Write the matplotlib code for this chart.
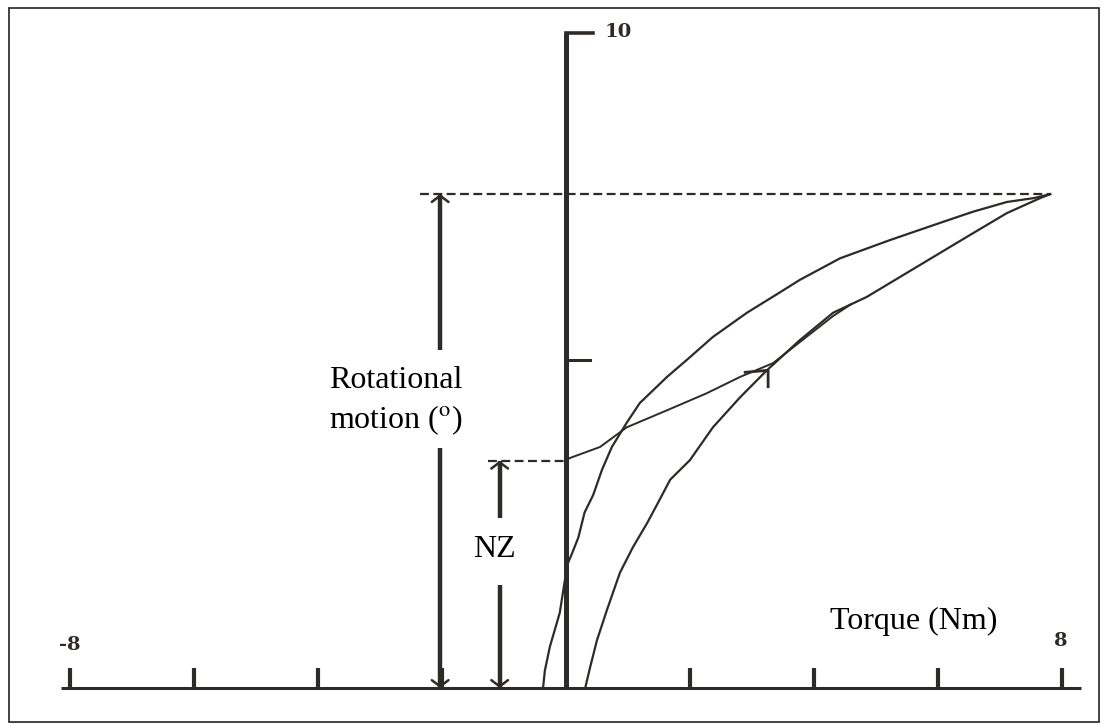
import numpy as np
import matplotlib
matplotlib.use("Agg")
import matplotlib.pyplot as plt

# values (torque in Nm, rotation in degrees)
unload_x = [7.81, 7.55, 7.11, 6.56, 6.03, 5.23, 4.42, 3.77, 3.45, 2.92, 2.37, 1.95, 1.63,
            1.19, 0.98, 0.74, 0.58, 0.44, 0.30, 0.20, 0.10, 0.02, -0.10, -0.18, -0.26, -0.34, -0.37]
unload_y = [7.54, 7.48, 7.42, 7.27, 7.10, 6.84, 6.56, 6.23, 6.04, 5.73, 5.36, 5.01, 4.75,
            4.35, 4.05, 3.68, 3.33, 2.95, 2.68, 2.30, 2.06, 1.88, 1.15, 0.89, 0.63, 0.27, 0.0]

load_x = [0.31, 0.39, 0.50, 0.66, 0.87, 1.08, 1.31, 1.48, 1.68, 2.00, 2.37, 2.81, 3.24,
          3.77, 4.31, 4.85, 5.66, 6.47, 7.11, 7.65, 7.81]
load_y = [0.0, 0.32, 0.73, 1.19, 1.76, 2.15, 2.52, 2.82, 3.18, 3.48, 3.98, 4.44, 4.85,
          5.31, 5.73, 5.97, 6.43, 6.89, 7.25, 7.48, 7.54]

nz_x = [0.0, 0.06, 0.55, 0.98, 1.63, 2.27, 2.81, 3.34, 3.77, 4.31, 4.60]
nz_y = [3.47, 3.51, 3.68, 3.98, 4.24, 4.50, 4.75, 4.96, 5.28, 5.68, 5.86]

peak_torque = 7.81
peak_rot = 7.54
nz_rot = 3.47
xticks = [-8, -6, -4, -2, 2, 4, 6, 8]

plt.rcParams['font.family'] = ['Liberation Serif', 'DejaVu Serif']
plt.rcParams['mathtext.fontset'] = 'stix'

fig = plt.figure(figsize=(11.07, 7.24), dpi=100)
ax = fig.add_axes([0, 0, 1, 1])
ax.set_xlim(-9.129, 8.726)
ax.set_ylim(-0.55, 10.504)
ax.axis("off")

ink = "#2e2a28"

# frame round the whole figure
fig.patches.append(plt.Rectangle((9 / 1107, 2 / 724), 1090 / 1107, 714 / 724,
                                 transform=fig.transFigure, fill=False,
                                 edgecolor="#222222", lw=1.2))

# axes
ax.plot([-8.15, 8.31], [0, 0], color=ink, lw=2.2, solid_capstyle="butt")
ax.plot([0, 0], [0, 10], color=ink, lw=3.6, solid_capstyle="butt")
for t in xticks:
    ax.plot([t, t], [0, 0.3], color=ink, lw=3.0, solid_capstyle="butt")
ax.plot([0, 0.44], [10, 10], color=ink, lw=2.6)
ax.plot([0, 0.39], [5, 5], color=ink, lw=2.2)
ax.text(-8.0, 0.65, "-8", ha="center", va="center", fontsize=14,
        fontweight="bold", family="DejaVu Serif", color=ink)
ax.text(7.98, 0.72, "8", ha="center", va="center", fontsize=14,
        fontweight="bold", family="DejaVu Serif", color=ink)
ax.text(0.63, 10.02, "10", ha="left", va="center", fontsize=14,
        fontweight="bold", family="DejaVu Serif", color=ink)

# curves
ax.plot(unload_x, unload_y, color=ink, lw=1.6)
ax.plot(load_x, load_y, color=ink, lw=1.6)
ax.plot(nz_x, nz_y, color=ink, lw=1.4)
ax.plot([2.89, 3.26, 3.26], [4.82, 4.85, 4.60], color=ink, lw=2.0)

# dashed guides
ax.plot([-2.35, peak_torque], [peak_rot, peak_rot], color=ink, lw=1.6,
        linestyle=(0, (4, 2)))
ax.plot([-1.26, 0], [nz_rot, nz_rot], color=ink, lw=1.6, linestyle=(0, (4, 2)))


def arrow(x, y0, y1):
    ax.plot([x, x], [y0, y1], color=ink, lw=3.2, solid_capstyle="butt")
    back = 0.25 if y1 > y0 else -0.25
    ax.annotate("", xy=(x, y1), xytext=(x, y1 - back),
                arrowprops=dict(arrowstyle="->,head_length=0.45,head_width=0.6",
                                color=ink, lw=1.8, shrinkA=0, shrinkB=0))


# rotational motion arrow
arrow(-2.03, 5.16, peak_rot)
arrow(-2.03, 3.66, 0)
ax.text(-2.74, 4.70, "Rotational", ha="center", va="center", fontsize=23, color="black")
ax.text(-2.74, 4.09, r"motion ($^{\rm o}$)", ha="center", va="center", fontsize=23,
        color="black")

# NZ arrow
arrow(-1.07, 2.60, nz_rot)
arrow(-1.07, 1.57, 0)
ax.text(-1.15, 2.12, "NZ", ha="center", va="center", fontsize=23, color="black")

ax.text(5.6, 1.02, "Torque (Nm)", ha="center", va="center", fontsize=23, color="black")

fig.savefig("out.png", dpi=100)
